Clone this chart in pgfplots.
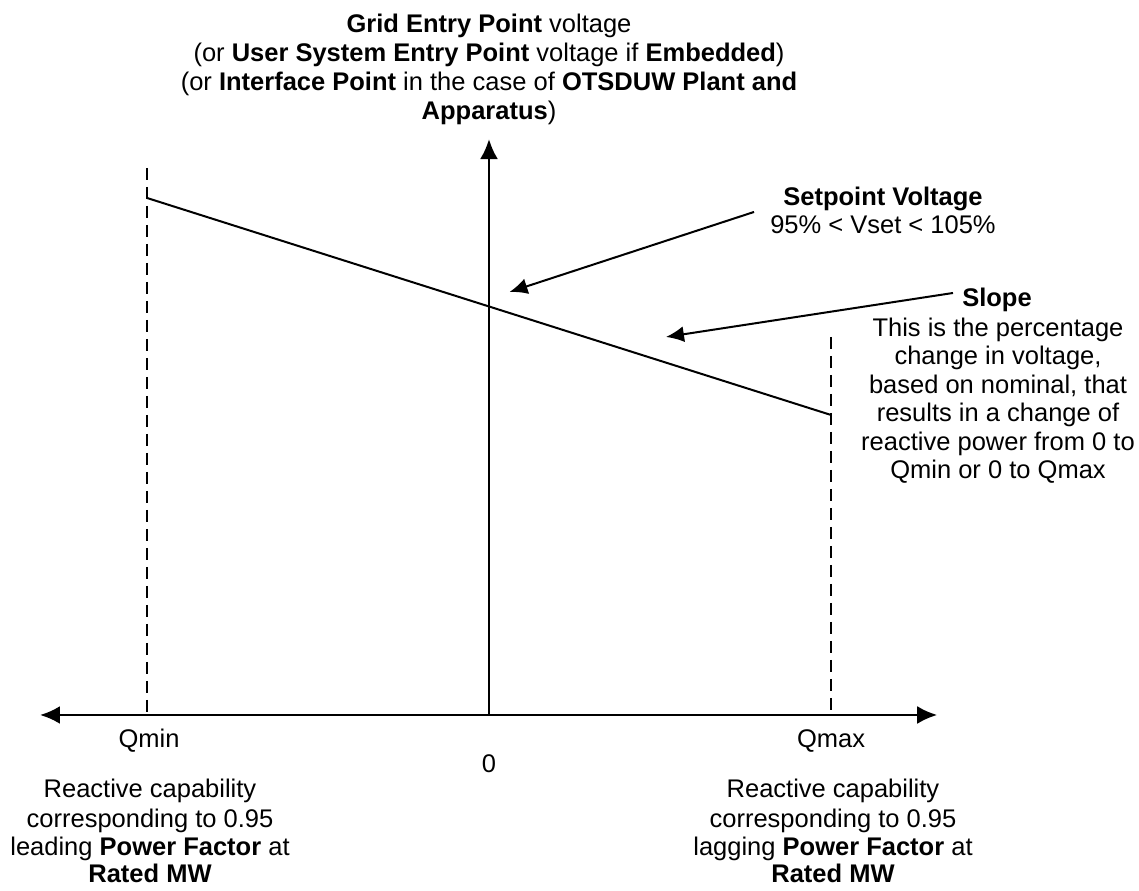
\documentclass[border=0pt]{standalone}
\usepackage{fontspec}
\setmainfont{Liberation Sans}
\usepackage{pgfplots}
\pgfplotsset{compat=1.18}
\usetikzlibrary{arrows.meta}

\begin{document}
\begin{tikzpicture}
\tikzset{
  lbl/.style={anchor=base, inner sep=0pt, font=\fontsize{12.75}{14.25}\selectfont},
  tip/.style={-{Latex[length=9pt,width=8pt]}},
}
\begin{axis}[
  width=569.5pt, height=445.5pt, scale only axis,
  xmin=-1.4298, xmax=1.9006, ymin=-0.5146, ymax=2.0906,
  axis line style={draw=none}, ticks=none, clip=false,
]
% Q axis (both ways) and voltage axis
\addplot[black, line width=1.3pt, {Latex[length=10pt,width=9pt]}-{Latex[length=10pt,width=9pt]}]
  coordinates {(-1.3129,0) (1.3105,0)};
\addplot[black, line width=1.3pt, -{Latex[length=10pt,width=9pt]}]
  coordinates {(0,0) (0,1.684)};
% Qmin / Qmax limits
\addplot[black, line width=1.2pt, dash pattern=on 6pt off 3.5pt]
  coordinates {(-1,1.5994) (-1,0)};
\addplot[black, line width=1.2pt, dash pattern=on 6pt off 3.5pt]
  coordinates {(1,1.1053) (1,0)};
% slope characteristic
\addplot[black, line width=1pt] coordinates {(-1,1.5117) (1,0.8772)};
% callout arrows
\addplot[black, line width=1pt, tip] coordinates {(0.7749,1.4708) (0.0599,1.2368)};
\addplot[black, line width=1pt, tip] coordinates {(1.3567,1.2339) (0.5175,1.1053)};

% title over the voltage axis
\node[lbl] at (axis cs:0,1.9942) {\textbf{Grid Entry Point} voltage};
\node[lbl] at (axis cs:0,1.9094) {(or \textbf{User System Entry Point} voltage if \textbf{Embedded})};
\node[lbl] at (axis cs:0,1.8246) {(or \textbf{Interface Point} in the case of \textbf{OTSDUW Plant and}};
\node[lbl] at (axis cs:0,1.7398) {\textbf{Apparatus})};

\node[lbl] at (axis cs:1.1520,1.4883) {\textbf{Setpoint Voltage}};
\node[lbl] at (axis cs:1.1520,1.4064) {95\% < Vset < 105\%};

\node[lbl] at (axis cs:1.4854,1.1930) {\textbf{Slope}};
\node[lbl] at (axis cs:1.4883,1.1053) {This is the percentage};
\node[lbl] at (axis cs:1.4883,1.0234) {change in voltage,};
\node[lbl] at (axis cs:1.4883,0.9386) {based on nominal, that};
\node[lbl] at (axis cs:1.4883,0.8567) {results in a change of};
\node[lbl] at (axis cs:1.4883,0.7719) {reactive power from 0 to};
\node[lbl] at (axis cs:1.4883,0.6901) {Qmin or 0 to Qmax};

\node[lbl] at (axis cs:-0.9942,-0.0965) {Qmin};
\node[lbl] at (axis cs:0,-0.1667) {0};
\node[lbl] at (axis cs:1.0,-0.0965) {Qmax};

\node[lbl] at (axis cs:-0.9912,-0.2427) {Reactive capability};
\node[lbl] at (axis cs:-0.9912,-0.3275) {corresponding to 0.95};
\node[lbl] at (axis cs:-0.9912,-0.4094) {leading \textbf{Power Factor} at};
\node[lbl] at (axis cs:-0.9912,-0.4912) {\textbf{Rated MW}};

\node[lbl] at (axis cs:1.0058,-0.2427) {Reactive capability};
\node[lbl] at (axis cs:1.0058,-0.3275) {corresponding to 0.95};
\node[lbl] at (axis cs:1.0058,-0.4094) {lagging \textbf{Power Factor} at};
\node[lbl] at (axis cs:1.0058,-0.4912) {\textbf{Rated MW}};
\end{axis}
\end{tikzpicture}
\end{document}
